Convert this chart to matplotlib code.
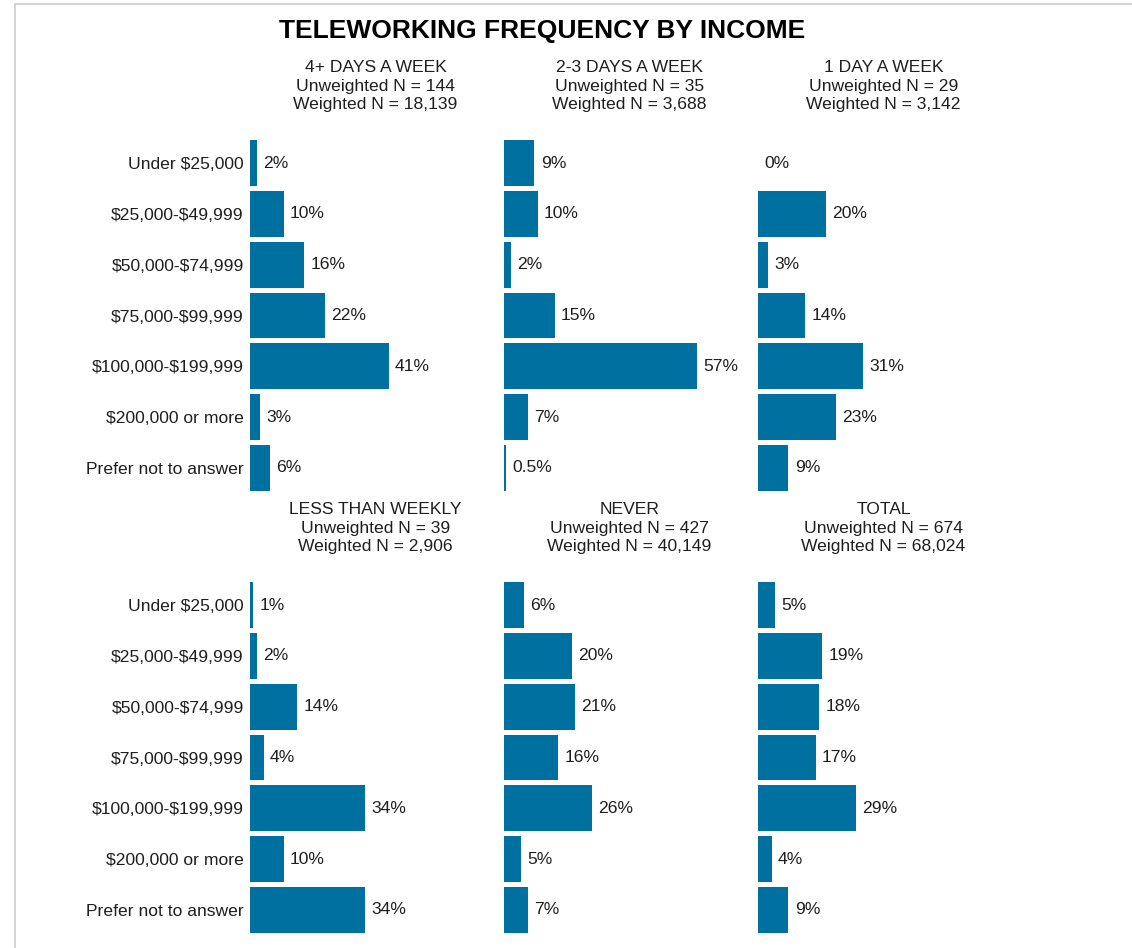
import matplotlib
matplotlib.use("Agg")
import matplotlib.pyplot as plt
from matplotlib.patches import Rectangle

plt.rcParams['font.family'] = ['Liberation Sans', 'DejaVu Sans']
plt.rcParams['text.parse_math'] = False

title = "TELEWORKING FREQUENCY BY INCOME"
categories = ["Under $25,000", "$25,000-$49,999", "$50,000-$74,999", "$75,000-$99,999",
              "$100,000-$199,999", "$200,000 or more", "Prefer not to answer"]
panel_names = ["4+ DAYS A WEEK", "2-3 DAYS A WEEK", "1 DAY A WEEK",
               "LESS THAN WEEKLY", "NEVER", "TOTAL"]
unweighted_n = ["144", "35", "29", "39", "427", "674"]
weighted_n = ["18,139", "3,688", "3,142", "2,906", "40,149", "68,024"]

days_4plus = [2, 10, 16, 22, 41, 3, 6]
days_2to3 = [9, 10, 2, 15, 57, 7, 0.5]
day_1 = [0, 20, 3, 14, 31, 23, 9]
less_weekly = [1, 2, 14, 4, 34, 10, 34]
never = [6, 20, 21, 16, 26, 5, 7]
total = [5, 19, 18, 17, 29, 4, 9]
series = [days_4plus, days_2to3, day_1, less_weekly, never, total]

W, H = 1132, 948
BAR = '#0070a0'
TXT = '#1e1e1e'
FS = 12.6
fig = plt.figure(figsize=(W / 100, H / 100), dpi=100)

# light frame
fig.patches.append(Rectangle((15 / W, -0.1), 1.2, 1 - 4 / H + 0.1, transform=fig.transFigure,
                             fill=False, edgecolor='#d4d4d4', linewidth=1.5))

fig.text(542 / W, 1 - 31 / H, title, ha='center', va='center', fontsize=19,
         fontweight='bold', color='black')

lefts = [250, 504, 758]
tops = [137.6, 579.6]
hdr_y = [67, 509]
aw, ah = 254, 355.8

def fmt(v):
    return f"{int(v)}%" if float(v).is_integer() else f"{v}%"

for i, vals in enumerate(series):
    r, c = divmod(i, 3)
    left, top = lefts[c], tops[r]
    ax = fig.add_axes([left / W, 1 - (top + ah) / H, aw / W, ah / H])
    y = list(range(len(categories)))
    ax.barh(y, vals, height=0.9, color=BAR, edgecolor='none', linewidth=0)
    ax.set_xlim(0, 75)
    ax.set_ylim(len(categories) - 0.5, -0.5)
    for yi, v in zip(y, vals):
        ax.annotate(fmt(v), (v, yi), xytext=(4.5, 0), textcoords='offset points',
                    ha='left', va='center', fontsize=FS, color=TXT)
    for s in ax.spines.values():
        s.set_visible(False)
    ax.set_xticks([])
    if c == 0:
        ax.set_yticks(y)
        ax.set_yticklabels(categories, fontsize=FS, color=TXT)
        ax.tick_params(axis='y', length=0, pad=4.5)
    else:
        ax.set_yticks([])
    cx = (left + 125.5) / W
    lines = [panel_names[i], f"Unweighted N = {unweighted_n[i]}", f"Weighted N = {weighted_n[i]}"]
    for k, line in enumerate(lines):
        fig.text(cx, 1 - (hdr_y[r] + 19 * k) / H, line, ha='center', va='center',
                 fontsize=FS, color=TXT)

fig.savefig("out.png", dpi=100, facecolor='white')
